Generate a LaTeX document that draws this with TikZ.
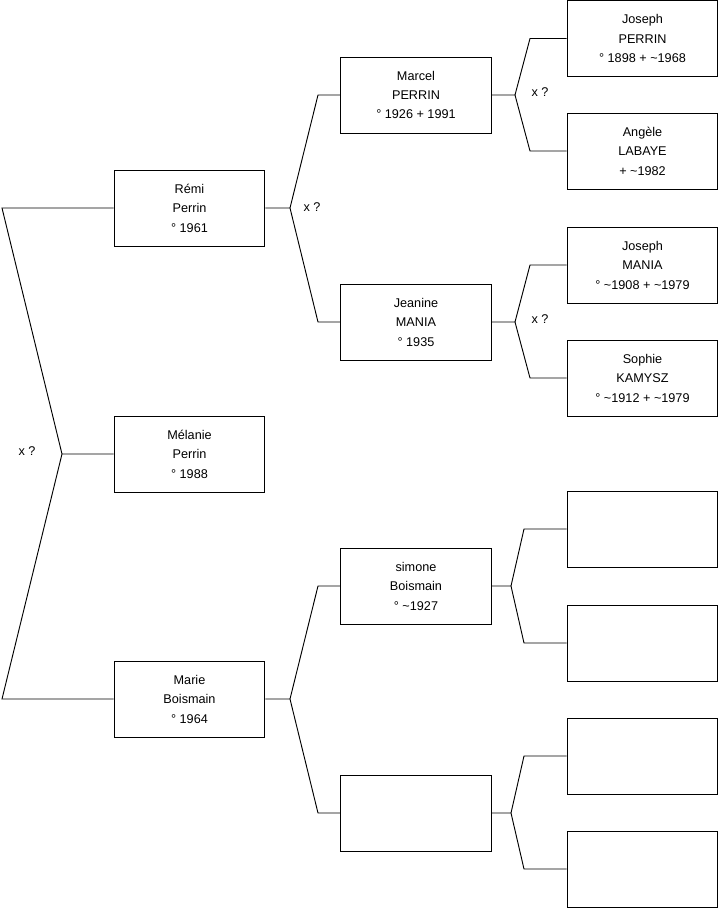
\documentclass[tikz,border=0pt]{standalone}
\usepackage{fontspec}
\setmainfont{Liberation Sans}
\usepackage{tikz}
\usetikzlibrary{positioning}
\tikzset{
  person/.style={draw, line width=0.75pt, minimum width=113pt, minimum height=57pt,
    inner sep=0pt, align=center, font=\fontsize{9.5}{14.6}\selectfont},
  link/.style={line width=0.7pt},
  union/.style={font=\fontsize{9.5}{11}\selectfont, inner sep=0pt}
}

\begin{document}
\begin{tikzpicture}[x=0.75pt, y=-0.75pt]
  \useasboundingbox (0,0) rectangle (719,908);

  % generation 1
  \node[person] (remi)    at (189.5, 208) {Rémi\\Perrin\\° 1961};
  \node[person] (melanie) at (189.5, 454) {Mélanie\\Perrin\\° 1988};
  \node[person] (marie)   at (189.5, 699) {Marie\\Boismain\\° 1964};

  % generation 2
  \node[person] (marcel)  at (416, 95)  {Marcel\\PERRIN\\° 1926 + 1991};
  \node[person] (jeanine) at (416, 322) {Jeanine\\MANIA\\° 1935};
  \node[person] (simone)  at (416, 586) {simone\\Boismain\\° \textasciitilde 1927};
  \node[person] (gpb)     at (416, 813) {};

  % generation 3
  \node[person] (josephp) at (642.5, 38.5) {Joseph\\PERRIN\\° 1898 + \textasciitilde 1968};
  \node[person] (angele)  at (642.5, 151) {Angèle\\LABAYE\\+ \textasciitilde 1982};
  \node[person] (josephm) at (642.5, 265) {Joseph\\MANIA\\° \textasciitilde 1908 + \textasciitilde 1979};
  \node[person] (sophie)  at (642.5, 378) {Sophie\\KAMYSZ\\° \textasciitilde 1912 + \textasciitilde 1979};
  \node[person] (ggp1)    at (642.5, 529) {};
  \node[person] (ggp2)    at (642.5, 643) {};
  \node[person] (ggp3)    at (642.5, 756) {};
  \node[person] (ggp4)    at (642.5, 869) {};

  % bends
  \coordinate (v0) at (62, 454);
  \coordinate (a0) at (2, 208);
  \coordinate (b0) at (2, 699);
  \coordinate (v1) at (290, 208);
  \coordinate (a1) at (318, 95);
  \coordinate (b1) at (318, 322);
  \coordinate (v2) at (290, 699);
  \coordinate (a2) at (318, 586);
  \coordinate (b2) at (318, 813);
  \coordinate (v3) at (515, 95);
  \coordinate (a3) at (530, 38.5);
  \coordinate (b3) at (530, 151);
  \coordinate (v4) at (515, 322);
  \coordinate (a4) at (530, 265);
  \coordinate (b4) at (530, 378);
  \coordinate (v5) at (511, 586);
  \coordinate (a5) at (524, 529);
  \coordinate (b5) at (524, 643);
  \coordinate (v6) at (511, 813);
  \coordinate (a6) at (524, 756);
  \coordinate (b6) at (524, 869);

  % links
  \draw[link] (melanie.west) -- (v0) -- (a0) -- (remi.west);
  \draw[link] (v0) -- (b0) -- (marie.west);
  \draw[link] (remi.east) -- (v1) -- (a1) -- (marcel.west);
  \draw[link] (v1) -- (b1) -- (jeanine.west);
  \draw[link] (marie.east) -- (v2) -- (a2) -- (simone.west);
  \draw[link] (v2) -- (b2) -- (gpb.west);
  \draw[link] (marcel.east) -- (v3) -- (a3) -- (josephp.west);
  \draw[link] (v3) -- (b3) -- (angele.west);
  \draw[link] (jeanine.east) -- (v4) -- (a4) -- (josephm.west);
  \draw[link] (v4) -- (b4) -- (sophie.west);
  \draw[link] (simone.east) -- (v5) -- (a5) -- (ggp1.west);
  \draw[link] (v5) -- (b5) -- (ggp2.west);
  \draw[link] (gpb.east) -- (v6) -- (a6) -- (ggp3.west);
  \draw[link] (v6) -- (b6) -- (ggp4.west);

  % unions
  \node[union] (u0) at (27, 451)  {x ?};
  \node[union] (u1) at (312, 207) {x ?};
  \node[union] (u3) at (540, 92)  {x ?};
  \node[union] (u4) at (540, 319) {x ?};
\end{tikzpicture}
\end{document}
